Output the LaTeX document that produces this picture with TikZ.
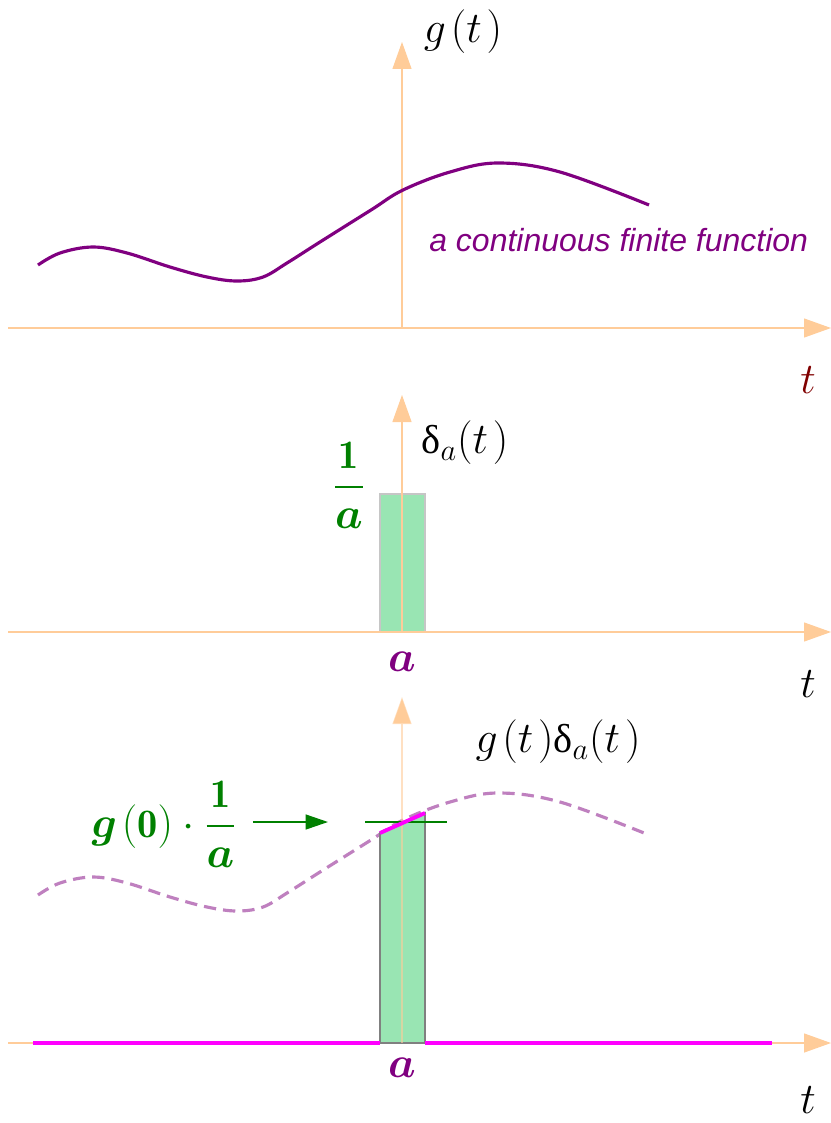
\documentclass[tikz,border=0pt]{standalone}
\usepackage{fontspec}
\usepackage{amsmath}
\usepackage{bm}
\newfontfamily\labelsans{Liberation Sans}
\newfontfamily\grkfont{Liberation Serif}
\usetikzlibrary{arrows.meta, positioning}
\definecolor{axisorange}{RGB}{255,204,153}
\definecolor{pulsegreen}{RGB}{153,229,179}
\definecolor{darkgreen}{RGB}{0,128,0}
\definecolor{fnpurple}{RGB}{128,0,128}
\definecolor{darkred}{RGB}{128,0,0}
\definecolor{hotpink}{RGB}{255,0,255}
\newcommand{\dlt}{\text{\grkfont δ}}

\begin{document}
\begin{tikzpicture}[x=0.02cm, y=-0.02cm,
    axis/.style={draw=axisorange, line width=0.7pt, -{Triangle[length=0.54cm, width=0.38cm]}},
    curve/.style={draw=fnpurple, line width=1.8pt},
    ghost/.style={draw=fnpurple!50, line width=1.8pt, dash pattern=on 7pt off 4pt},
    pulse/.style={fill=pulsegreen, line width=1pt},
    hot/.style={draw=hotpink, line width=2.2pt},
    level/.style={draw=darkgreen, line width=0.9pt},
    pointer/.style={draw=darkgreen, line width=0.9pt, -{Triangle[length=0.45cm, width=0.3cm]}},
    lbl/.style={font=\fontsize{23}{27}\selectfont, inner sep=0pt},
    note/.style={font=\labelsans\itshape\fontsize{18.2}{21}\selectfont, text=fnpurple, inner sep=0pt, anchor=west}
]
\useasboundingbox (0,0) rectangle (831,1123);

% Panel 1: g(t)
\coordinate (o1) at (402,328);
\coordinate (xl1) at (8,328);
\coordinate (xr1) at (831,328);
\coordinate (yt1) at (402,42);
\draw[axis] (xl1) -- (xr1);
\draw[axis] (o1) -- (yt1);
\draw[curve] plot[smooth, tension=0.6] coordinates {(38,265) (60,253) (93,247) (127,253) (170,267) (207,277) (237,281) (263,277) (287,263) (320,242) (371,210) (403,190) (450,172) (498,163) (560,172) (649,205)};
\node[lbl] (gt) at (463,32) {$g\mkern2mu(t\mkern2mu)$};
\node[note] (cff) at (429,240) {a continuous finite function};
\node[lbl, text=darkred] (t1) at (808,380) {$t$};

% Panel 2: delta_a(t)
\coordinate (o2) at (402,632);
\coordinate (xl2) at (8,632);
\coordinate (xr2) at (831,632);
\coordinate (yt2) at (402,395);
\draw[pulse, draw=gray!45] (380,632) rectangle (425,494);
\draw[axis] (xl2) -- (xr2);
\draw[axis] (o2) -- (yt2);
\node[lbl, text=darkgreen] (inva) at (349,485) {$\dfrac{\mathbf{1}}{\bm{a}}$};
\node[lbl] (da) at (465,443) {$\dlt_{a}(t\mkern2mu)$};
\node[lbl, text=fnpurple] (a2) at (402,662) {$\bm{a}$};
\node[lbl] (t2) at (808,684) {$t$};

% Panel 3: g(t) delta_a(t)
\coordinate (o3) at (402,1043);
\coordinate (xl3) at (8,1043);
\coordinate (xr3) at (831,1043);
\coordinate (yt3) at (402,697);
\draw[axis] (xl3) -- (xr3);
\begin{scope}[shift={(0,630)}]
\draw[ghost] plot[smooth, tension=0.6] coordinates {(38,265) (60,253) (93,247) (127,253) (170,267) (207,277) (237,281) (263,277) (287,263) (320,242) (371,210) (403,190) (450,172) (498,163) (560,172) (649,205)};
\end{scope}
\draw[pulse, draw=gray] (380,1043) -- (380,833) -- (425,813) -- (425,1043) -- cycle;
\draw[axis, draw opacity=0.6] (o3) -- (yt3);
\draw[hot] (33,1043) -- (380,1043);
\draw[hot] (425,1043) -- (772,1043);
\draw[level] (365,822) -- (447,822);
\draw[hot] (380,833) -- (425,813);
\node[lbl, text=darkgreen] (g0a) at (164,824) {$\bm{g}\mkern2mu(\mathbf{0})\cdot\dfrac{\mathbf{1}}{\bm{a}}$};
\coordinate (g0tip) at (328,822);
\draw[pointer] (g0a.east |- g0tip) ++(16,0) -- (g0tip);
\node[lbl] (gda) at (558,742) {$g\mkern2mu(t\mkern2mu)\dlt_{a}(t\mkern2mu)$};
\node[lbl, text=fnpurple] (a3) at (402,1068) {$\bm{a}$};
\node[lbl] (t3) at (808,1100) {$t$};
\end{tikzpicture}
\end{document}
